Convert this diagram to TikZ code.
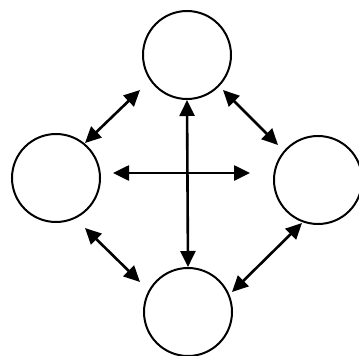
\documentclass[tikz,border=0pt]{standalone}
\usetikzlibrary{arrows.meta,calc}
\begin{document}
\begin{tikzpicture}[x=1pt,y=-1pt,
  ring/.style={circle,draw=black,line width=2pt,minimum size=88pt,inner sep=0pt},
  tipA/.tip={Triangle[length=16pt,width=15pt]},
  link/.style={line width=2.6pt,tipA-tipA}]
\useasboundingbox (0,0) rectangle (359,356);
\node[ring] (T) at (187,55) {};
\node[ring] (L) at (56,178) {};
\node[ring] (R) at (318,180) {};
\node[ring] (B) at (188,312) {};
% endpoints
\coordinate (tl1) at (85,143);
\coordinate (tl2) at (140,90);
\coordinate (tr1) at (223,90);
\coordinate (tr2) at (278,145);
\coordinate (bl1) at (85,228);
\coordinate (bl2) at (140,282);
\coordinate (br1) at (302,223);
\coordinate (br2) at (232,292);
\coordinate (h1) at (113,173);
\coordinate (h2) at (250,173);
\draw[link] (tl1) -- (tl2);
\draw[link] (tr1) -- (tr2);
\draw[link] (bl1) -- (bl2);
\draw[link] (br1) -- (br2);
\draw[link] (h1) -- (h2);
\draw[link] (T.south) -- (B.north);
\end{tikzpicture}
\end{document}
